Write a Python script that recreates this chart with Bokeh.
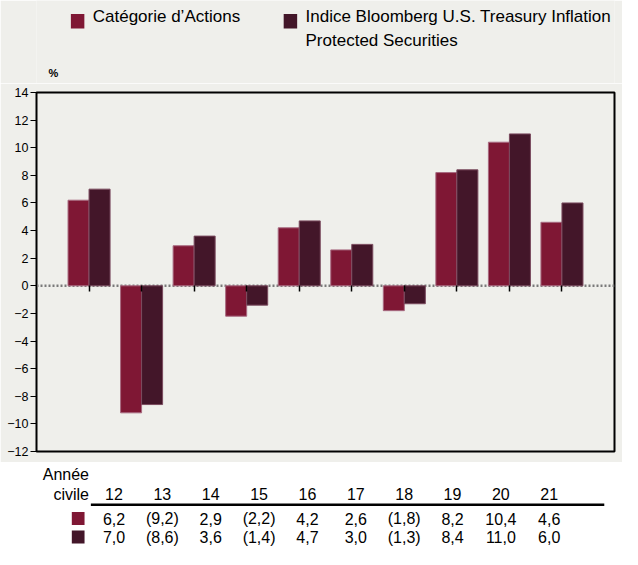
from bokeh.plotting import figure
from bokeh.models import Range1d, FixedTicker, Span
from bokeh.layouts import column
from bokeh.embed import file_html
from bokeh.resources import INLINE
from bokeh.core.properties import value

# ---------------- data ----------------
years = ["12", "13", "14", "15", "16", "17", "18", "19", "20", "21"]
fund = [6.2, -9.2, 2.9, -2.2, 4.2, 2.6, -1.8, 8.2, 10.4, 4.6]
index_ret = [7.0, -8.6, 3.6, -1.4, 4.7, 3.0, -1.3, 8.4, 11.0, 6.0]
series_labels = ["Catégorie d’Actions",
                 "Indice Bloomberg U.S. Treasury Inflation\nProtected Securities"]
y_ticks = [-12, -10, -8, -6, -4, -2, 0, 2, 4, 6, 8, 10, 12, 14]
y_unit = "%"
row_header = ["Année", "civile"]

# ---------------- style ----------------
FONT = "Liberation Sans"
BG = "#EFEFEB"
C1 = "#7F1734"
C2 = "#431629"
TXT = "#000000"
W = 622
H_TOP, H_CHART, H_TAB = 83, 379, 87

xs = [i + 1 for i in range(len(years))]


def fmt(v):
    s = f"{abs(v):.1f}".replace(".", ",")
    return f"({s})" if v < 0 else s


# ---------------- legend strip ----------------
top = figure(width=W, height=H_TOP, x_range=Range1d(0, W), y_range=Range1d(H_TOP, 0),
             x_axis_type=None, y_axis_type=None, toolbar_location=None,
             output_backend="svg", min_border=0)
top.background_fill_color = BG
top.border_fill_color = BG
top.outline_line_color = None
top.grid.visible = False

leg_x = [37, 266]
for k, (lab, col) in enumerate(zip(series_labels, [C1, C2])):
    top.quad(left=[leg_x[k]], right=[leg_x[k] + 14.5], top=[13.5], bottom=[28],
             fill_color=col, line_color=None)
    lines = lab.split("\n")
    top.text(x=[leg_x[k] + 23.5] * len(lines), y=[16 + 23.5 * j for j in range(len(lines))],
             text=lines, text_font=value(FONT), text_font_size="17px",
             text_color=TXT, text_baseline="middle", text_align="left")
top.text(x=[13], y=[72], text=[y_unit], text_font=value(FONT), text_font_size="11px",
         text_font_style="bold", text_color=TXT, text_baseline="middle")

# ---------------- chart ----------------
p = figure(width=W, height=H_CHART, x_range=Range1d(0, len(years) + 1),
           y_range=Range1d(-12, 14), toolbar_location=None, output_backend="svg",
           min_border_left=36, min_border_right=8, min_border_top=9, min_border_bottom=11)
p.background_fill_color = BG
p.border_fill_color = BG
p.outline_line_color = "#000000"
p.outline_line_width = 2
p.grid.visible = False

p.add_layout(Span(location=0, dimension="width", line_color="#7A7A7A",
                  line_dash="2 2", line_width=2.5, level="underlay"))

p.vbar(x=[x - 0.2 for x in xs], top=fund, bottom=0, width=0.4,
       fill_color=C1, line_color="#A86A80", line_width=1)
p.vbar(x=[x + 0.2 for x in xs], top=index_ret, bottom=0, width=0.4,
       fill_color=C2, line_color="#7A4A5E", line_width=1)

xa = p.xaxis[0]
xa.ticker = FixedTicker(ticks=xs)
xa.fixed_location = 0
xa.axis_line_color = None
xa.major_tick_out = 6
xa.major_tick_in = 0
xa.major_tick_line_color = "#000000"
xa.major_tick_line_width = 1.5
xa.minor_tick_line_color = None
xa.major_label_overrides = {x: "" for x in xs}
xa.major_label_standoff = 0

ya = p.yaxis[0]
ya.ticker = FixedTicker(ticks=y_ticks)
ya.major_tick_out = 6
ya.major_tick_in = 0
ya.minor_tick_line_color = None
ya.axis_line_color = "#000000"
ya.major_tick_line_color = "#000000"
ya.major_label_text_font = FONT
ya.major_label_text_font_size = "12.5px"
ya.major_label_text_color = TXT
ya.major_label_standoff = 2

# ---------------- table ----------------
S = 52.04                     # px per column
A0 = 1 - 83.4 / S             # column 1 sits at px 83.4
tab = figure(width=W, height=H_TAB, x_range=Range1d(A0, A0 + W / S),
             y_range=Range1d(H_TAB, 0), x_axis_type=None, y_axis_type=None,
             toolbar_location=None, output_backend="svg", min_border=0)
tab.background_fill_color = "#FFFFFF"
tab.border_fill_color = "#FFFFFF"
tab.outline_line_color = None
tab.grid.visible = False


def tx(px):
    return A0 + px / S


tab.text(x=[tx(56.5), tx(56.5)], y=[12, 31.5], text=row_header, text_font=value(FONT),
         text_font_size="16px", text_color=TXT, text_align="right",
         text_baseline="middle")
tab.text(x=xs, y=[31.5] * len(xs), text=years, text_font=value(FONT),
         text_font_size="16px", text_color=TXT, text_align="center",
         text_baseline="middle")
tab.line(x=[tx(58.5), tx(611)], y=[42.3, 42.3], line_color="#000000", line_width=2.5)

for k, (vals, col) in enumerate(zip([fund, index_ret], [C1, C2])):
    mid = 56 + 18.5 * k
    tab.quad(left=[tx(38)], right=[tx(51.7)], top=[mid - 6.5], bottom=[mid + 6.5],
             fill_color=col, line_color=None)
    tab.text(x=xs, y=[mid] * len(xs), text=[fmt(v) for v in vals],
             text_font=value(FONT), text_font_size="16px", text_color=TXT,
             text_align="center", text_baseline="middle")

layout = column(top, p, tab)
open("out.html", "w").write(file_html(layout, INLINE))
